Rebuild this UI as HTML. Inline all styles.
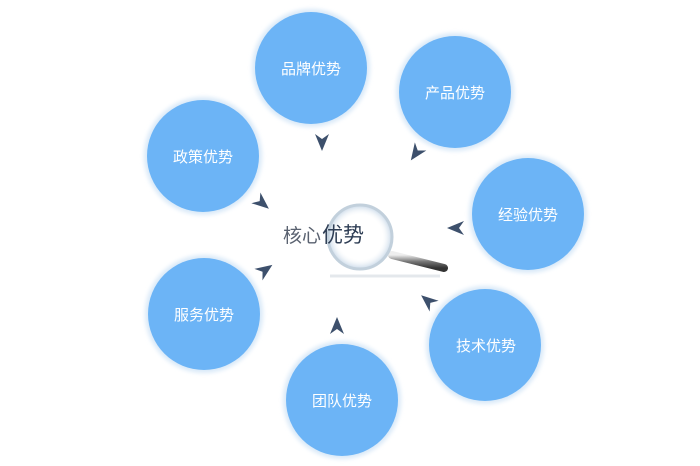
<!DOCTYPE html>
<html><head><meta charset="utf-8"><style>
html,body{margin:0;padding:0;background:#fff;}
svg{display:block}
text{font-family:"Liberation Sans","Noto Sans CJK SC",sans-serif;}
</style></head><body>
<svg width="700" height="466" viewBox="0 0 700 466" xmlns="http://www.w3.org/2000/svg">
<defs>
<filter id="g" x="-20%" y="-20%" width="140%" height="140%"><feGaussianBlur stdDeviation="2"/></filter>
<linearGradient id="h" x1="0" y1="0" x2="0" y2="1"><stop offset="0" stop-color="#eee"/><stop offset="0.5" stop-color="#777"/><stop offset="1" stop-color="#333"/></linearGradient>
<radialGradient id="lens" cx="0.5" cy="0.5" r="0.5"><stop offset="0.7" stop-color="#fff" stop-opacity="0.2"/><stop offset="1" stop-color="#c8d8e8"/></radialGradient>
<path id="a" d="M9,0 L-8,-7 L-3,0 L-8,7 Z" fill="#3d506c"/>
</defs>
<g fill="#d9e9f8" filter="url(#g)">
<circle cx="311" cy="68" r="59"/><circle cx="455" cy="92" r="59"/><circle cx="203" cy="156" r="59"/>
<circle cx="528" cy="214" r="59"/><circle cx="204" cy="314" r="59"/><circle cx="485" cy="345" r="59"/><circle cx="342" cy="400" r="59"/>
</g>
<g fill="#6cb4f6">
<circle cx="311" cy="68" r="56"/><circle cx="455" cy="92" r="56"/><circle cx="203" cy="156" r="56"/>
<circle cx="528" cy="214" r="56"/><circle cx="204" cy="314" r="56"/><circle cx="485" cy="345" r="56"/><circle cx="342" cy="400" r="56"/>
</g>
<g fill="#fff" font-size="15" text-anchor="middle">
<text x="311" y="74">品牌优势</text><text x="455" y="98">产品优势</text><text x="203" y="162">政策优势</text>
<text x="528" y="220">经验优势</text><text x="204" y="320">服务优势</text><text x="486" y="351">技术优势</text><text x="342" y="406">团队优势</text>
</g>
<use href="#a" transform="translate(322,142) rotate(90)"/>
<use href="#a" transform="translate(416,153) rotate(125)"/>
<use href="#a" transform="translate(262,203) rotate(40)"/>
<use href="#a" transform="translate(456,228) rotate(180)"/>
<use href="#a" transform="translate(265,270) rotate(-35)"/>
<use href="#a" transform="translate(428,301) rotate(-140)"/>
<use href="#a" transform="translate(337,326) rotate(-90)"/>
<line x1="330" y1="276" x2="440" y2="276" stroke="#e4e8ec" stroke-width="3"/>
<line x1="392" y1="255" x2="444" y2="268" stroke="url(#h)" stroke-width="8" stroke-linecap="round"/>
<circle cx="360" cy="237" r="32" fill="url(#lens)" stroke="#c2d0dc" stroke-width="3"/>
<text x="283" y="242" font-size="19" fill="#5a6270">核心</text>
<text x="322" y="242" font-size="21" fill="#2f3e55">优势</text>
</svg>
</body></html>
